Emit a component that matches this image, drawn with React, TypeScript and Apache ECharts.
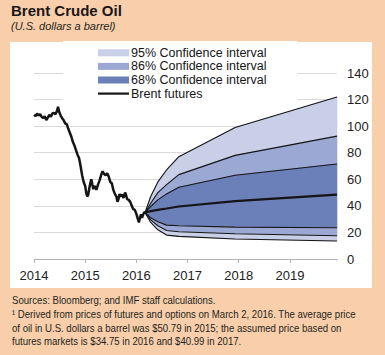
import React, { useEffect, useRef } from "react";
import * as echarts from "echarts";

// Historical Brent price (year fraction, USD/bbl)
const histYears = [
  2014.0, 2014.03, 2014.06, 2014.09, 2014.12, 2014.15, 2014.18, 2014.21, 2014.24, 2014.27,
  2014.3, 2014.33, 2014.36, 2014.39, 2014.42, 2014.45, 2014.47, 2014.49, 2014.52, 2014.55,
  2014.58, 2014.61, 2014.64, 2014.67, 2014.7, 2014.73, 2014.76, 2014.79, 2014.82, 2014.85,
  2014.88, 2014.91, 2014.94, 2014.97, 2015.0, 2015.02, 2015.04, 2015.06, 2015.08, 2015.1,
  2015.12, 2015.14, 2015.16, 2015.18, 2015.2, 2015.22, 2015.25, 2015.28, 2015.31, 2015.34,
  2015.37, 2015.4, 2015.43, 2015.46, 2015.49, 2015.52, 2015.55, 2015.58, 2015.61, 2015.63,
  2015.65, 2015.67, 2015.69, 2015.72, 2015.75, 2015.78, 2015.8, 2015.82, 2015.85, 2015.88,
  2015.91, 2015.94, 2015.97, 2016.0, 2016.03, 2016.05, 2016.07, 2016.09, 2016.11, 2016.13,
  2016.15, 2016.17,
];
const histPrice = [
  108.5, 107.5, 109.5, 108, 109, 107, 106, 107.5, 104.5, 106.5,
  108.5, 107, 109.5, 110, 109, 111.5, 114.5, 111, 108, 106,
  104.5, 102, 101.5, 98, 95, 92, 88, 85.5, 82, 78.5,
  76, 70, 63, 58, 55, 50, 47, 48.5, 53, 57,
  60, 56, 52.5, 55, 54, 52, 56, 59, 63, 66,
  64, 63, 64.5, 62, 58, 57, 52, 49, 47, 43,
  45, 49, 47, 48.5, 46, 50, 48, 45, 44.5, 43,
  40, 37.5, 37, 34, 30, 27.5, 31, 33.5, 31, 33,
  35, 35,
];

// Futures-implied fan
const fanYears = [2016.17, 2016.28, 2016.42, 2016.59, 2016.83, 2017.93, 2019.92];
const upper95 = [35, 47, 58, 67, 77, 99, 122];
const upper86 = [35, 42, 50, 56, 63.5, 78, 92.5];
const upper68 = [35, 39.5, 44.5, 49, 54, 63, 71.5];
const futures = [35, 36, 37, 38, 39.5, 43.5, 48.5];
const lower68 = [35, 31, 28, 25.5, 25, 24, 23.5];
const lower86 = [35, 29.5, 25, 21.5, 20.5, 19, 17.5];
const lower95 = [35, 27.5, 22, 18, 17, 15, 13.5];

const yTicks = [0, 20, 40, 60, 80, 100, 120, 140];
const xTickYears = [2014, 2015, 2016, 2017, 2018, 2019];

const C95 = "#c8cfe7";
const C86 = "#9ba8d3";
const C68 = "#6b7fb9";
const INK = "#151515";
const FONT = "'Liberation Sans', Arial, sans-serif";

const N95 = "95% Confidence interval";
const N86 = "86% Confidence interval";
const N68 = "68% Confidence interval";
const NFUT = "Brent futures";

const zip = (xs: number[], ys: number[]) => xs.map((x, i) => [x, ys[i]]);

export default function App() {
  const ref = useRef<HTMLDivElement>(null);
  useEffect(() => {
    if (!ref.current) return;
    const chart = echarts.init(ref.current, undefined, { renderer: "svg" });

    const band = (name: string, color: string, hi: number[], lo: number[]) => ({
      type: "custom",
      name,
      data: zip(fanYears, hi),
      itemStyle: { color },
      z: 2,
      renderItem: (params: any, api: any) => {
        if (params.dataIndex !== 0) return null;
        const top = fanYears.map((x, i) => api.coord([x, hi[i]]));
        const bot = fanYears.map((x, i) => api.coord([x, lo[i]])).reverse();
        return {
          type: "polygon",
          shape: { points: top.concat(bot) },
          style: { fill: color, stroke: color, lineWidth: 0.6 },
        };
      },
    });
    const boundary = (name: string, vals: number[], width = 1.1) => ({
      type: "line",
      name,
      data: zip(fanYears, vals),
      symbol: "none",
      lineStyle: { color: INK, width },
      itemStyle: { color: INK, borderWidth: 0 },
      z: 4,
    });

    chart.setOption({
      animation: false,
      title: {
        text: "Brent Crude Oil",
        subtext: "(U.S. dollars a barrel)",
        left: 6,
        top: -2,
        itemGap: 2,
        textStyle: { fontFamily: FONT, fontSize: 15, fontWeight: "bold", color: "#1a1718" },
        subtextStyle: { fontFamily: FONT, fontSize: 11, fontStyle: "italic", color: "#231f20" },
      },
      legend: {
        left: 63,
        top: 41,
        orient: "vertical",
        padding: [5, 31, 5, 35],
        backgroundColor: "#ffffff",
        itemGap: 0,
        itemWidth: 31,
        itemHeight: 7,
        textStyle: { fontFamily: FONT, fontSize: 12.5, color: INK, lineHeight: 13.6, padding: [0, 0, 0, -3] },
        selectedMode: false,
        data: [
          { name: N95, icon: "rect", itemStyle: { color: C95, borderWidth: 0 } },
          { name: N86, icon: "rect", itemStyle: { color: C86, borderWidth: 0 } },
          { name: N68, icon: "rect", itemStyle: { color: C68, borderWidth: 0 } },
          { name: NFUT, icon: "path://M0,0H31V2.2H0Z", itemStyle: { color: INK, borderWidth: 0 } },
        ],
      },
      grid: { left: 34, right: 48, top: 73, bottom: 96, containLabel: false },
      xAxis: {
        type: "value",
        min: 2014,
        max: 2019.92,
        interval: 1,
        axisLine: { show: true, lineStyle: { color: "#b5b5b5", width: 1 } },
        axisTick: { show: true, length: 4, inside: false, lineStyle: { color: "#b5b5b5" } },
        splitLine: { show: false },
        axisLabel: {
          margin: 10,
          fontFamily: FONT,
          fontSize: 13,
          color: "#222",
          showMaxLabel: false,
          formatter: (v: number) =>
            xTickYears.includes(Math.round(v)) && Math.abs(v - Math.round(v)) < 1e-6 ? String(Math.round(v)) : "",
        },
      },
      yAxis: {
        type: "value",
        position: "right",
        min: yTicks[0],
        max: yTicks[yTicks.length - 1],
        interval: 20,
        axisLine: { show: false },
        axisTick: { show: false },
        splitLine: { show: true, lineStyle: { color: "#d9d9d9", width: 1 } },
        axisLabel: { margin: 10, fontFamily: FONT, fontSize: 13, color: "#222" },
      },
      series: [
        band(N95, C95, upper95, upper86),
        band(N86, C86, upper86, upper68),
        band(N68, C68, upper68, lower68),
        band(N86, C86, lower68, lower86),
        band(N95, C95, lower86, lower95),
        boundary("u95", upper95),
        boundary("u86", upper86),
        boundary("u68", upper68),
        boundary("l68", lower68),
        boundary("l86", lower86),
        boundary("l95", lower95),
        boundary(NFUT, futures, 2.2),
        {
          type: "line",
          name: "Brent price",
          data: zip(histYears, histPrice),
          symbol: "none",
          lineStyle: { color: INK, width: 2.5 },
          itemStyle: { color: INK, borderWidth: 0 },
          z: 5,
        },
      ],
      graphic: [
        {
          type: "text",
          x: 12,
          y: 293,
          scaleX: 0.835,
          style: {
            text:
              "Sources: Bloomberg; and IMF staff calculations.\n" +
              "\u00B9 Derived from prices of futures and options on March 2, 2016. The average price\n" +
              "of oil in U.S. dollars a barrel was $50.79 in 2015; the assumed price based on\n" +
              "futures markets is $34.75 in 2016 and $40.99 in 2017.",
            fontFamily: FONT,
            fontSize: 11.5,
            lineHeight: 13.7,
            verticalAlign: "top",
            fill: "#231f20",
          },
        },
      ],
    });
    return () => chart.dispose();
  }, []);

  return (
    <div style={{ position: "fixed", left: 0, top: 0, width: 385, height: 355, background: "#f9cfab" }}>
      <div style={{ position: "absolute", left: 10, top: 42, width: 362, height: 246, background: "#ffffff" }} />
      <div ref={ref} style={{ position: "absolute", left: 0, top: 0, width: 385, height: 355 }} />
    </div>
  );
}
